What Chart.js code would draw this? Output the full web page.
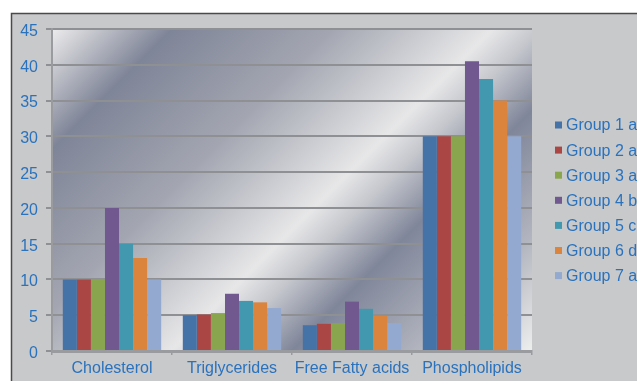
<!DOCTYPE html>
<html>
<head>
<meta charset="utf-8">
<script src="https://cdn.jsdelivr.net/npm/chart.js@4"></script>
<style>
  html, body { margin: 0; padding: 0; background: #fff; overflow: hidden; }
  #wrap { position: relative; width: 637px; height: 381px; }
</style>
</head>
<body>
<div id="wrap"><canvas id="lipidChart" width="637" height="381"></canvas></div>
<script>
// categories and series
const categories = ['Cholesterol', 'Triglycerides', 'Free Fatty acids', 'Phospholipids'];
const groupNames = ['Group 1 a', 'Group 2 a', 'Group 3 a', 'Group 4 b', 'Group 5 c', 'Group 6 d', 'Group 7 a'];
const group1 = [10, 5.0, 3.6, 30];
const group2 = [10, 5.1, 3.8, 30];
const group3 = [10, 5.3, 3.9, 30];
const group4 = [20, 8.0, 6.9, 40.5];
const group5 = [15, 7.0, 5.9, 38];
const group6 = [13, 6.8, 4.9, 35];
const group7 = [10, 6.0, 3.9, 30];
const yTicks = [0, 5, 10, 15, 20, 25, 30, 35, 40, 45];

const colors = ['#4572a7', '#aa4643', '#89a54e', '#71588f', '#4198af', '#db843d', '#93a9cf'];
const textBlue = '#2a72bd';

// gray frame + chrome-like gradient behind the plot
const backdrop = {
    id: 'backdrop',
    beforeDraw(chart) {
        const ctx = chart.ctx, a = chart.chartArea;
        ctx.save();
        ctx.fillStyle = '#ffffff';
        ctx.fillRect(0, 0, chart.width, chart.height);
        ctx.fillStyle = '#c8c9cb';
        ctx.fillRect(11, 13, chart.width - 11, chart.height - 13);
        ctx.strokeStyle = '#4a4a4a';
        ctx.lineWidth = 1.5;
        ctx.beginPath();
        ctx.moveTo(11.5, chart.height);
        ctx.lineTo(11.5, 13.5);
        ctx.lineTo(chart.width, 13.5);
        ctx.stroke();

        const w = a.right - a.left, h = a.bottom - a.top;
        const d = (w + h) / 2;
        const g = ctx.createLinearGradient(a.left, a.top, a.left + d, a.top + d);
        g.addColorStop(0, '#ececed');
        g.addColorStop(0.05, '#c9cad0');
        g.addColorStop(0.15, '#7f8598');
        g.addColorStop(0.35, '#a3a6b1');
        g.addColorStop(0.55, '#e7e7e8');
        g.addColorStop(0.61, '#c4c6cc');
        g.addColorStop(0.70, '#80869a');
        g.addColorStop(0.86, '#b3b6bf');
        g.addColorStop(1, '#eeeeee');
        ctx.fillStyle = g;
        ctx.fillRect(a.left, a.top, w, h);
        ctx.restore();
    }
};

// legend drawn on the right, text runs off the edge like the original
const sideLegend = {
    id: 'sideLegend',
    afterDraw(chart) {
        const ctx = chart.ctx;
        ctx.save();
        ctx.font = '16px "Liberation Sans", Arial, sans-serif';
        ctx.textBaseline = 'middle';
        chart.data.datasets.forEach((ds, i) => {
            const y = 125 + i * 25.1;
            ctx.fillStyle = ds.backgroundColor;
            ctx.fillRect(555, y - 3.5, 7, 7);
            ctx.fillStyle = textBlue;
            ctx.fillText(ds.label, 566, y + 1);
        });
        ctx.restore();
    }
};

const seriesData = [group1, group2, group3, group4, group5, group6, group7];

new Chart(document.getElementById('lipidChart'), {
    type: 'bar',
    data: {
        labels: categories,
        datasets: seriesData.map((vals, i) => ({
            label: groupNames[i],
            data: vals,
            backgroundColor: colors[i],
            borderWidth: 0
        }))
    },
    options: {
        responsive: false,
        animation: false,
        layout: { padding: { top: 29, right: 105, bottom: 0, left: 0 } },
        datasets: { bar: { categoryPercentage: 0.82, barPercentage: 1.0 } },
        plugins: {
            legend: { display: false },
            tooltip: { enabled: false }
        },
        scales: {
            x: {
                offset: true,
                afterFit: s => { s.height = 30; },
                grid: {
                    offset: true,
                    drawOnChartArea: false,
                    color: '#9a9b9f',
                    lineWidth: 1.5,
                    tickLength: 4
                },
                border: { color: '#9a9b9f', width: 3 },
                ticks: {
                    color: textBlue,
                    padding: 4,
                    minRotation: 0,
                    maxRotation: 0,
                    autoSkip: false,
                    font: { family: '"Liberation Sans", Arial, sans-serif', size: 16 }
                }
            },
            y: {
                min: 0,
                max: 45,
                afterFit: s => { s.width = 52; },
                afterBuildTicks: s => { s.ticks = yTicks.map(v => ({ value: v })); },
                grid: {
                    color: '#8f9094',
                    lineWidth: 2,
                    tickLength: 6
                },
                border: { color: '#9a9b9f', width: 2 },
                ticks: {
                    color: textBlue,
                    padding: 8,
                    labelOffset: 2.5,
                    font: { family: '"Liberation Sans", Arial, sans-serif', size: 16 }
                }
            }
        }
    },
    plugins: [backdrop, sideLegend]
});
</script>
</body>
</html>
